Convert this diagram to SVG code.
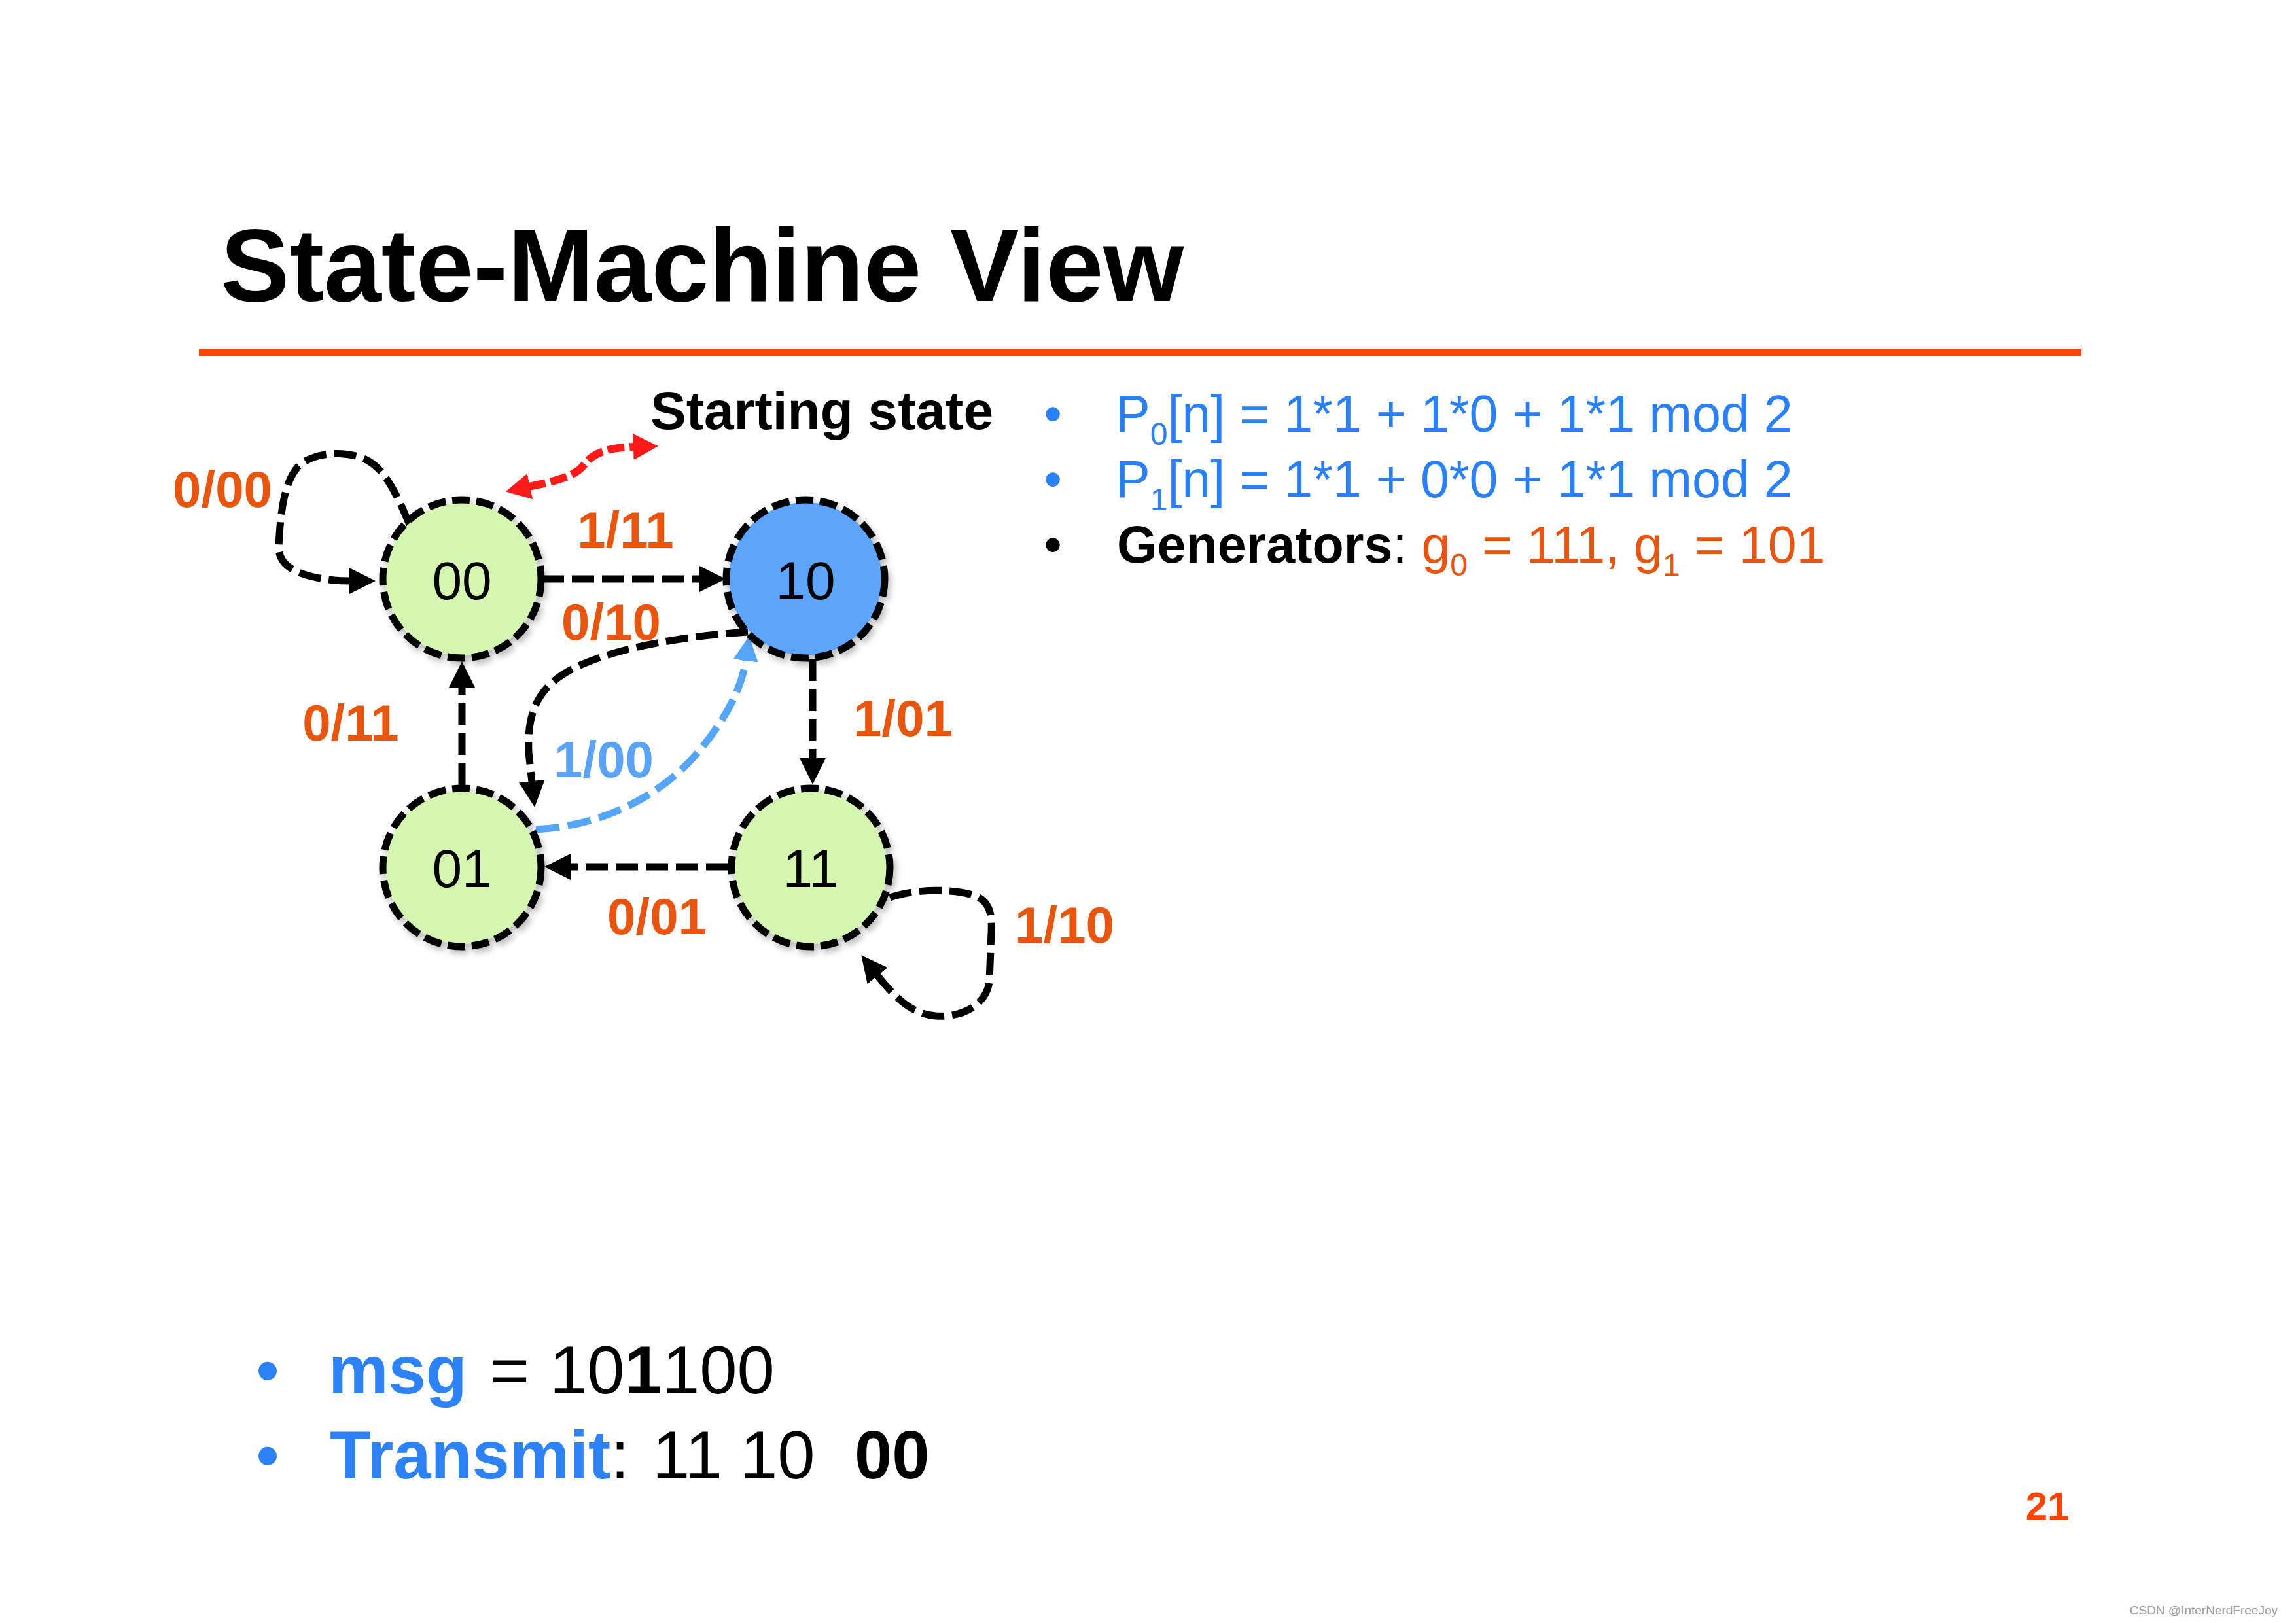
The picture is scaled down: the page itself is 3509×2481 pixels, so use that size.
<svg xmlns="http://www.w3.org/2000/svg" width="3509" height="2481" viewBox="0 0 3509 2481">
<defs>
<style>
.ttl{font-family:"Liberation Sans",Arial,sans-serif;font-weight:bold;fill:#000}
.lbl{font-family:"Liberation Sans",Arial,sans-serif;font-weight:bold;font-size:78px;fill:#E8550F;text-anchor:middle}
.ntx{font-family:"Liberation Sans",Arial,sans-serif;font-size:82px;fill:#000;text-anchor:middle}
.body{font-family:"Liberation Sans",Arial,sans-serif;font-size:79px}
.big{font-family:"Liberation Sans",Arial,sans-serif;font-size:103px}
.edge{fill:none;stroke:#000;stroke-width:11;stroke-dasharray:34 12}
.ring{fill:none;stroke:#000;stroke-width:11;stroke-dasharray:27 10}
.green{fill:#D4F6B0}
.blue{fill:#5BA4FC}
</style>
<filter id="sh" x="-20%" y="-20%" width="150%" height="150%">
<feDropShadow dx="4" dy="6" stdDeviation="5" flood-color="#000" flood-opacity="0.25"/>
</filter>
<marker id="ahK" markerUnits="userSpaceOnUse" viewBox="0 0 40 40" markerWidth="40" markerHeight="40" refX="2" refY="20" orient="auto"><path d="M0,0 L40,20 L0,40 z" fill="#000"/></marker>
<marker id="ahB" markerUnits="userSpaceOnUse" viewBox="0 0 38 38" markerWidth="38" markerHeight="38" refX="2" refY="19" orient="auto"><path d="M0,0 L38,19 L0,38 z" fill="#55A5FA"/></marker>
<marker id="ahR" markerUnits="userSpaceOnUse" viewBox="0 0 38 40" markerWidth="38" markerHeight="40" refX="2" refY="20" orient="auto-start-reverse"><path d="M0,0 L38,20 L0,40 z" fill="#FF1A1A"/></marker>
</defs>
<rect width="3509" height="2481" fill="#fff"/>

<text class="ttl" x="337" y="460" font-size="158">State-Machine View</text>
<rect x="304" y="534" width="2877" height="10" fill="#FF4500"/>

<text class="ttl" x="994" y="656" font-size="82">Starting state</text>

<g id="connectors">
<path class="edge" d="M626,802 C608,760 590,718 560,703 C530,688 478,690 455,714 C432,740 428,795 426,835 C425,862 448,874 475,881 C495,886 515,888 536,888" marker-end="url(#ahK)"/>
<path class="edge" d="M828,885 L1071,885" marker-end="url(#ahK)"/>
<path class="edge" d="M1242,1007 L1242,1161" marker-end="url(#ahK)"/>
<path class="edge" d="M1113,1325 L870,1325" marker-end="url(#ahK)"/>
<path class="edge" d="M706,1200 L706,1049" marker-end="url(#ahK)"/>
<path class="edge" d="M1143,966 C1050,972 930,990 865,1028 C815,1058 806,1100 808,1150 L813,1196" marker-end="url(#ahK)"/>
<path class="edge" d="M1360,1372 C1400,1358 1462,1358 1492,1370 C1515,1380 1516,1402 1515,1425 L1512,1500 C1508,1535 1472,1556 1430,1553 C1395,1550 1372,1530 1340,1490" marker-end="url(#ahK)"/>
<path d="M819,1268 C930,1262 1020,1210 1075,1140 C1115,1090 1135,1045 1140,1008" fill="none" stroke="#55A5FA" stroke-width="11" stroke-dasharray="36 13" marker-end="url(#ahB)"/>
<path d="M808,744 C850,735 880,728 893,710 C908,690 935,684 970,683" fill="none" stroke="#FF1A1A" stroke-width="12" stroke-dasharray="26 8" marker-start="url(#ahR)" marker-end="url(#ahR)"/>
</g>

<g id="node-00" filter="url(#sh)">
<circle class="green" cx="706" cy="885" r="117"/>
<circle class="ring" cx="706" cy="885" r="121"/>
<text class="ntx" x="706" y="916">00</text>
</g>
<g id="node-10" filter="url(#sh)">
<circle class="blue" cx="1231" cy="885" r="117"/>
<circle class="ring" cx="1231" cy="885" r="121"/>
<text class="ntx" x="1231" y="916">10</text>
</g>
<g id="node-01" filter="url(#sh)">
<circle class="green" cx="706" cy="1326" r="117"/>
<circle class="ring" cx="706" cy="1326" r="121"/>
<text class="ntx" x="706" y="1356">01</text>
</g>
<g id="node-11" filter="url(#sh)">
<circle class="green" cx="1239" cy="1326" r="117"/>
<circle class="ring" cx="1239" cy="1326" r="121"/>
<text class="ntx" x="1239" y="1356">11</text>
</g>

<g id="edge-labels">
<text class="lbl" x="340" y="775">0/00</text>
<text class="lbl" x="956" y="837">1/11</text>
<text class="lbl" x="934" y="978">0/10</text>
<text class="lbl" x="536" y="1132">0/11</text>
<text class="lbl" x="923" y="1188" style="fill:#5BA3F7">1/00</text>
<text class="lbl" x="1380" y="1125">1/01</text>
<text class="lbl" x="1004" y="1428">0/01</text>
<text class="lbl" x="1627" y="1441">1/10</text>
</g>

<g id="equations">
<text class="body" x="1609" y="660" fill="#2A80F8" text-anchor="middle">•</text>
<text class="body" x="1705" y="660" fill="#2A80F8">P<tspan font-size="48" dy="20">0</tspan><tspan dy="-20">[n] = 1*1 + 1*0 + 1*1 mod 2</tspan></text>
<text class="body" x="1609" y="760" fill="#2A80F8" text-anchor="middle">•</text>
<text class="body" x="1705" y="760" fill="#2A80F8">P<tspan font-size="48" dy="20">1</tspan><tspan dy="-20">[n] = 1*1 + 0*0 + 1*1 mod 2</tspan></text>
<text class="body" x="1609" y="860" fill="#000" text-anchor="middle">•</text>
<text class="body" x="1707" y="860" fill="#000"><tspan font-weight="bold">Generators</tspan>: <tspan fill="#E8550F">g<tspan font-size="48" dy="20">0</tspan><tspan dy="-20"> = 111, g</tspan><tspan font-size="48" dy="20">1</tspan><tspan dy="-20"> = 101</tspan></tspan></text>
</g>

<g id="message">
<text class="big" x="409" y="2130" fill="#2D82F7" text-anchor="middle">•</text>
<text class="big" x="502" y="2130" fill="#000"><tspan font-weight="bold" fill="#2D82F7">msg</tspan><tspan x="749">=</tspan><tspan x="840">10</tspan><tspan font-weight="bold">1</tspan>100</text>
<text class="big" x="409" y="2260" fill="#2D82F7" text-anchor="middle">•</text>
<text class="big" x="504" y="2260" fill="#000"><tspan font-weight="bold" fill="#2D82F7">Transmit</tspan>:<tspan x="997">11</tspan><tspan x="1131">10</tspan><tspan x="1306" font-weight="bold">00</tspan></text>
</g>

<text x="3129" y="2323" font-family="Liberation Sans, Arial, sans-serif" font-weight="bold" font-size="60" fill="#FF4500" text-anchor="middle">21</text>
<text x="3481" y="2468" font-family="Liberation Sans, Arial, sans-serif" font-size="19" fill="#9A9A9A" text-anchor="end">CSDN @InterNerdFreeJoy</text>
</svg>
